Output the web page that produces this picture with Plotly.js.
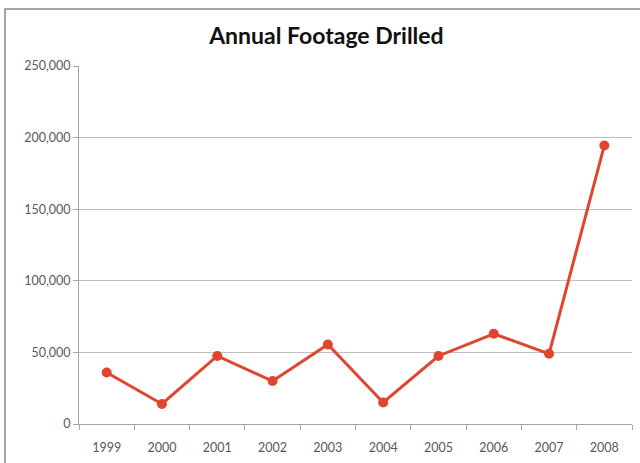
<!DOCTYPE html>
<html>
<head>
<meta charset="utf-8">
<script src="https://cdn.plot.ly/plotly-3.0.1.min.js"></script>
<style>
html,body{margin:0;padding:0;background:#fff;}
#wrap{position:relative;width:640px;height:463px;overflow:hidden;}
#chart{width:640px;height:463px;}
#frame{position:absolute;left:4px;top:8px;width:650px;height:470px;border:2px solid #a6a6a6;pointer-events:none;box-sizing:border-box;}
</style>
</head>
<body>
<div id="wrap"><div id="chart"></div><div id="frame"></div></div>
<script>
var years = ['1999','2000','2001','2002','2003','2004','2005','2006','2007','2008'];
var footage = [36000, 14000, 47500, 30000, 55500, 15000, 47500, 63000, 49000, 194500];
var yTicks = [0, 50000, 100000, 150000, 200000, 250000];
var yTickText = ['0', '50,000', '100,000', '150,000', '200,000', '250,000'];

var trace = {
  x: years,
  y: footage,
  type: 'scatter',
  mode: 'lines+markers',
  line: {color: '#e0452f', width: 3},
  marker: {color: '#e0452f', size: 10},
  hoverinfo: 'x+y'
};

var layout = {
  width: 640,
  height: 463,
  margin: {l: 79, r: 8, t: 66, b: 39},
  paper_bgcolor: '#ffffff',
  plot_bgcolor: '#ffffff',
  showlegend: false,
  font: {family: 'Lato, "Open Sans", sans-serif', color: '#595959', size: 12},
  title: {
    text: 'Annual Footage Drilled',
    font: {family: 'Lato, "Open Sans", sans-serif', size: 23, color: '#111111', weight: 'bold'},
    x: 0.51, xanchor: 'center', y: 0.922, yanchor: 'middle'
  },
  xaxis: {
    type: 'category',
    range: [-0.5, 9.5],
    showgrid: false,
    showline: true,
    linecolor: '#a6a6a6',
    linewidth: 1,
    ticks: 'outside',
    tickson: 'boundaries',
    ticklen: 5,
    tickcolor: '#a6a6a6',
    tickfont: {size: 12.5, color: '#595959'},
    ticklabelstandoff: 12,
    zeroline: false
  },
  yaxis: {
    range: [0, 250000],
    tickvals: yTicks,
    ticktext: yTickText,
    showgrid: true,
    gridcolor: '#bfbfbf',
    gridwidth: 1,
    showline: true,
    linecolor: '#a6a6a6',
    linewidth: 1,
    ticks: 'outside',
    ticklen: 5,
    tickcolor: '#a6a6a6',
    tickfont: {size: 12.5, color: '#595959'},
    zeroline: false
  }
};

Plotly.newPlot('chart', [trace], layout, {displayModeBar: false, staticPlot: true});
</script>
</body>
</html>
